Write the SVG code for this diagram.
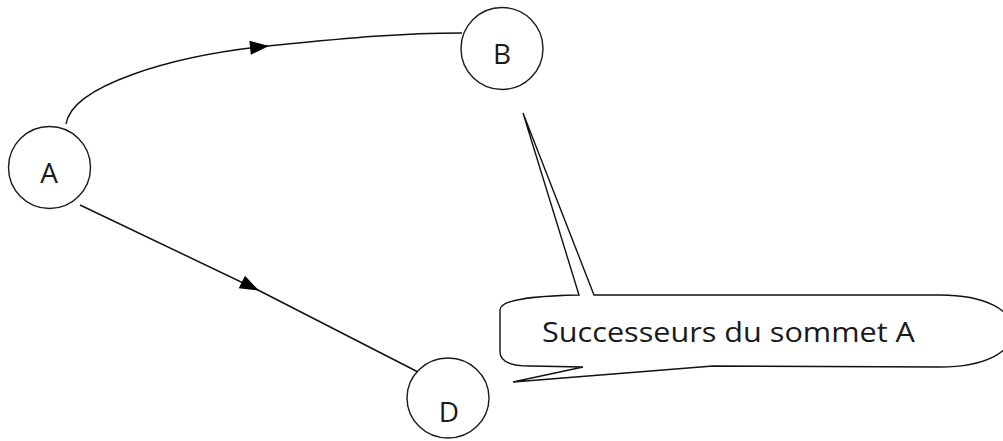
<svg xmlns="http://www.w3.org/2000/svg" width="1003" height="441" viewBox="0 0 1003 441">
  <style>
    .node circle, .node ellipse { fill: #fff; stroke: #1a1a1a; stroke-width: 1.4; }
    .node text { font-family: "Open Sans", "Liberation Sans", sans-serif; font-size: 28px; fill: #1a1a1a; text-anchor: middle; }
    .edge { fill: none; stroke: #111; stroke-width: 1.5; marker-mid: url(#arrow); }
    .callout { fill: #fff; stroke: #111; stroke-width: 1.4; stroke-linejoin: miter; }
    .callout-text { font-family: "Open Sans", "Liberation Sans", sans-serif; font-size: 28px; fill: #1a1a1a; }
  </style>
  <defs>
    <marker id="arrow" markerUnits="userSpaceOnUse" markerWidth="22" markerHeight="18" viewBox="0 -9 20 18" refX="18" refY="0" orient="auto">
      <path d="M0,-7 L19,0 L0,7 z" fill="#000"/>
    </marker>
  </defs>

  <rect width="1003" height="441" fill="#fff"/>

  <!-- connectors: arrowheads sit on the middle vertex of each path -->
  <g id="connectors">
    <path id="edge-A-B" class="edge" d="M66,124 C72,86 170,56 268,46 C350,38 400,33 462,33"/>
    <path id="edge-A-D" class="edge" d="M80,205 L258,290 L418,372"/>
  </g>

  <g id="node-A" class="node">
    <circle cx="49.5" cy="167.5" r="41"/>
    <text x="49" y="183">A</text>
  </g>
  <g id="node-B" class="node">
    <circle cx="502" cy="48.5" r="41"/>
    <text x="502" y="64">B</text>
  </g>
  <g id="node-D" class="node">
    <ellipse cx="448" cy="398" rx="41" ry="40"/>
    <text x="449" y="422">D</text>
  </g>

  <!-- wavy callout with a long pointer towards B and a small tail near D -->
  <g id="callout">
    <path class="callout" d="M579,295 L523,113 L594,295 L940,295
             C985,295 1013,310 1013,331
             C1013,352 985,367 940,367
             L713,366 L513,382 L583,367 L530,366
             C510,366 500,362 500,352 L500,310
             C500,300 530,296 579,295 Z"/>
    <text class="callout-text" x="542" y="342" textLength="373" lengthAdjust="spacingAndGlyphs">Successeurs du sommet A</text>
  </g>
</svg>
